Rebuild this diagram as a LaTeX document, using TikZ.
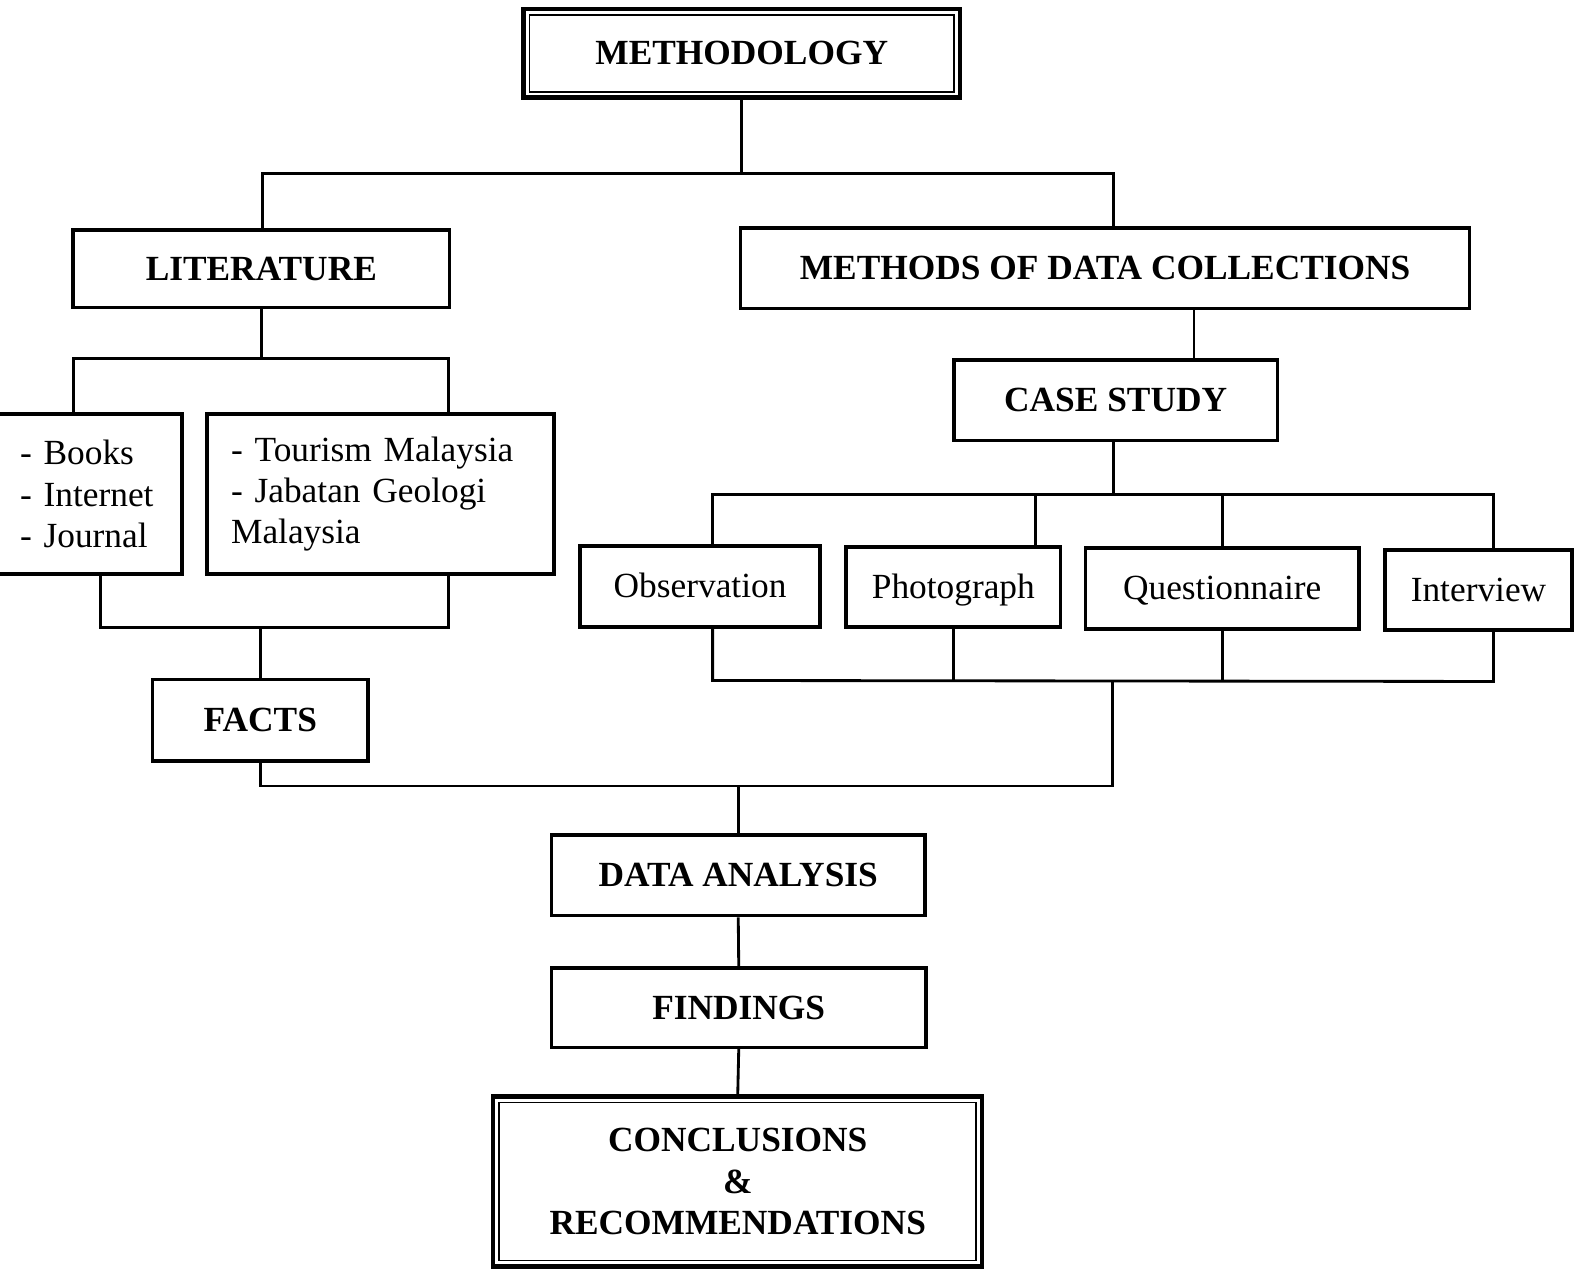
\documentclass[tikz,border=0pt]{standalone}
\usepackage{fontspec}
\setmainfont{Liberation Serif}
\begin{document}
\begin{tikzpicture}[x=0.01cm,y=-0.01cm,
  box/.style={draw, line width=1pt, inner sep=0pt, align=center,
    font=\fontsize{10}{11.7}\selectfont},
  one/.style={text height=7pt, text depth=0.5pt},
  bbox/.style={box, font=\bfseries\fontsize{10}{11.7}\selectfont},
  listbox/.style={box, align=left, font=\fontsize{10}{11.7}\selectfont},
  inner/.style={line width=0.5pt},
  conn/.style={line width=0.8pt}]
\useasboundingbox (0,0) rectangle (1568,1262);
% nodes
\node[bbox, one, line width=1.2pt, minimum width=4.34cm, minimum height=0.88cm] (meth) at (738,53) {METHODOLOGY};
\draw[inner] ([shift={(8,8)}]meth.north west) rectangle ([shift={(-8,-8)}]meth.south east);
\node[bbox, one, minimum width=3.74cm, minimum height=0.77cm] (lit) at (260,267.5) {LITERATURE};
\node[bbox, one, minimum width=7.25cm, minimum height=0.80cm] (mdc) at (1099.5,267) {METHODS OF DATA COLLECTIONS};
\node[listbox, text width=1.37cm, inner xsep=0.24cm, minimum height=1.59cm] (books) at (88.5,491.5)
  {- Books\\- Internet\\- Journal};
\node[listbox, text width=2.97cm, inner xsep=0.24cm, minimum height=1.59cm] (jab) at (378.5,491.5)
  {- Tourism Malaysia\\- Jabatan Geologi\\Malaysia};
\node[bbox, one, minimum width=2.14cm, minimum height=0.81cm] (facts) at (259,716.5) {FACTS};
\node[bbox, one, minimum width=3.22cm, minimum height=0.80cm] (cs) at (1110,398) {CASE STUDY};
\node[box, one, minimum width=2.39cm, minimum height=0.81cm] (obs) at (696.5,583.5) {Observation};
\node[box, one, minimum width=2.13cm, minimum height=0.80cm] (photo) at (948.5,584) {Photograph};
\node[box, one, minimum width=2.72cm, minimum height=0.81cm] (quest) at (1216,585.5) {Questionnaire};
\node[box, one, minimum width=1.86cm, minimum height=0.80cm] (inter) at (1471,587) {Interview};
\node[bbox, one, minimum width=3.71cm, minimum height=0.80cm] (da) at (734.5,871) {DATA ANALYSIS};
\node[bbox, one, minimum width=3.72cm, minimum height=0.79cm] (find) at (735,1002.5) {FINDINGS};
\node[bbox, line width=1.2pt, minimum width=4.86cm, minimum height=1.69cm] (concl) at (734,1175.5)
  {CONCLUSIONS\\\&\\RECOMMENDATIONS};
\draw[inner] ([shift={(8,8)}]concl.north west) rectangle ([shift={(-8,-8)}]concl.south east);
% junction coordinates
\coordinate (tl) at (261,173);
\coordinate (tr) at (1108,173);
\coordinate (l1) at (73,357);
\coordinate (l2) at (446,357);
\coordinate (b1) at (100,624);
\coordinate (b2) at (446,624);
\coordinate (m1) at (1188,0);
\coordinate (c0) at (1108,492);
\coordinate (cA) at (709,492);
\coordinate (cB) at (1030,492);
\coordinate (cC) at (1216,492);
\coordinate (cD) at (1486,492);
\coordinate (dA) at (709,677);
\coordinate (dB) at (949,677);
\coordinate (dC) at (1216,677);
\coordinate (dD) at (1486,678);
\coordinate (f1) at (1107,782);
% connectors
\draw[conn] (meth.south) -- (meth.south |- tl);
\draw[conn] (tl |- lit.north) -- (tl) -- (tr) -- (tr |- mdc.north);
\draw[conn] (lit.south) -- (lit.south |- l1);
\draw[conn] (l1 |- books.north) -- (l1) -- (l2) -- (l2 |- jab.north);
\draw[conn] (b1 |- books.south) -- (b1) -- (b2) -- (b2 |- jab.south);
\draw[conn] (facts.north) -- (facts.north |- b1);
\draw[conn] (m1 |- mdc.south) -- (m1 |- cs.north);
\draw[conn] (c0 |- cs.south) -- (c0);
\draw[conn] (cA |- obs.north) -- (cA) -- (cD) -- (cD |- inter.north);
\draw[conn] (cB) -- (cB |- photo.north);
\draw[conn] (cC) -- (cC |- quest.north);
\draw[conn] (dA |- obs.south) -- (dA) -- (dD) -- (dD |- inter.south);
\draw[conn] (dB |- photo.south) -- (dB);
\draw[conn] (dC |- quest.south) -- (dC);
\draw[conn] (facts.south) |- (f1) -- (f1 |- dA);
\draw[conn] (da.north) -- (da.north |- f1);
\draw[conn] (da.south) -- (find.north);
\draw[conn] (find.south) -- (concl.north);
\end{tikzpicture}
\end{document}
